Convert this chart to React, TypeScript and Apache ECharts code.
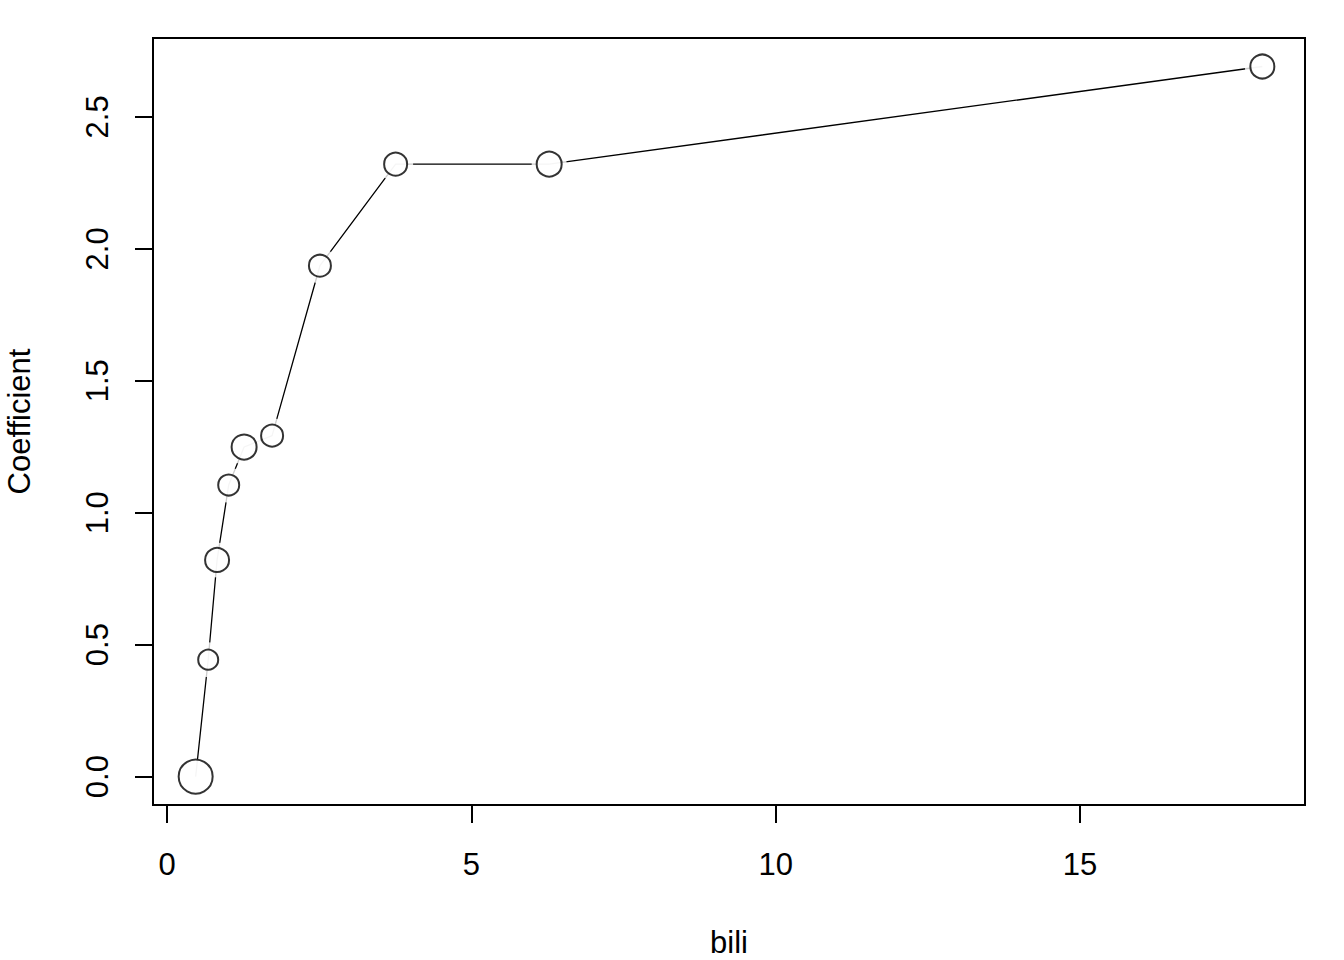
import React, { useEffect, useRef } from "react";
import * as echarts from "echarts";

const biliValues = [0.468, 0.674, 0.82, 1.011, 1.264, 1.724, 2.51, 3.754, 6.277, 17.996];
const coefficients = [0.0, 0.443, 0.821, 1.105, 1.249, 1.292, 1.936, 2.321, 2.321, 2.691];
const pointWeights = [34, 20, 24, 21, 25, 22, 22, 23, 25, 24];
const xTicks = [0, 5, 10, 15];
const yTicks = [0, 0.5, 1.0, 1.5, 2.0, 2.5];
const xRange = [-0.233, 18.697];
const yRange = [-0.1076, 2.799];

const FONT = "'Liberation Sans', Arial, sans-serif";

export default function App() {
  const ref = useRef<HTMLDivElement>(null);
  useEffect(() => {
    if (!ref.current) return;
    const chart = echarts.init(ref.current, null, { renderer: "svg" });
    const pts = biliValues.map((x, i) => [x, coefficients[i]]);
    chart.setOption({
      animation: false,
      backgroundColor: "#ffffff",
      grid: {
        left: 153,
        right: 39,
        top: 38,
        bottom: 155,
        outerBoundsMode: "none",
        containLabel: false,
        show: true,
        borderColor: "#000",
        borderWidth: 2,
        backgroundColor: "transparent",
      },
      xAxis: {
        type: "value",
        min: xRange[0],
        max: xRange[1],
        name: "bili",
        nameLocation: "middle",
        nameGap: 122,
        nameTextStyle: { fontFamily: FONT, fontSize: 31, color: "#000" },
        axisLine: { show: false, onZero: false },
        splitLine: { show: false },
        axisTick: {
          show: true,
          length: 18,
          customValues: xTicks,
          lineStyle: { color: "#000", width: 2 },
        },
        axisLabel: {
          customValues: xTicks,
          margin: 44,
          fontFamily: FONT,
          fontSize: 31,
          color: "#000",
          formatter: (v: number) => String(v),
        },
      },
      yAxis: {
        type: "value",
        min: yRange[0],
        max: yRange[1],
        name: "Coefficient",
        nameLocation: "middle",
        nameGap: 118,
        nameRotate: 90,
        nameTextStyle: { fontFamily: FONT, fontSize: 31, color: "#000" },
        axisLine: { show: false, onZero: false },
        splitLine: { show: false },
        axisTick: {
          show: true,
          length: 18,
          customValues: yTicks,
          lineStyle: { color: "#000", width: 2 },
        },
        axisLabel: {
          customValues: yTicks,
          rotate: 90,
          margin: 40,
          fontFamily: FONT,
          fontSize: 31,
          color: "#000",
          formatter: (v: number) => v.toFixed(1),
        },
      },
      series: [
        {
          type: "line",
          data: pts,
          showSymbol: false,
          symbol: "none",
          lineStyle: { color: "#000", width: 1.3 },
          z: 2,
        },
        {
          type: "scatter",
          data: pts,
          symbol: "circle",
          symbolSize: 35,
          itemStyle: { color: "#fff", borderWidth: 0 },
          z: 3,
          silent: true,
        },
        {
          type: "scatter",
          data: pts.map((p, i) => ({ value: p, symbolSize: pointWeights[i] })),
          symbol: "circle",
          itemStyle: { color: "#fff", borderColor: "#000", borderWidth: 2 },
          z: 4,
        },
      ],
    });
    return () => chart.dispose();
  }, []);
  return (
    <div
      ref={ref}
      style={{ position: "fixed", left: 0, top: 0, width: 1344, height: 960 }}
    />
  );
}
